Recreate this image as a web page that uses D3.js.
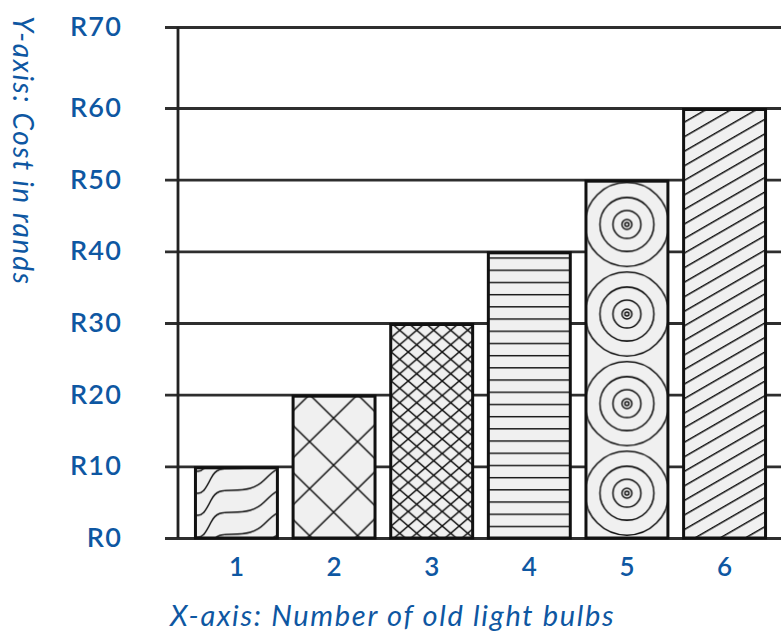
<!DOCTYPE html>
<html>
<head>
<meta charset="utf-8">
<script src="https://cdn.jsdelivr.net/npm/d3@7"></script>
<style>
  body { margin: 0; background: #fff; }
  text { font-family: Lato, "Open Sans", sans-serif; fill: #0e57a2; }
</style>
</head>
<body>
<div id="chart"></div>
<script>
// data
const bulbs = [1, 2, 3, 4, 5, 6];
const cost = [10, 20, 30, 40, 50, 60];
const fills = ['waves', 'bigDiamond', 'smallDiamond', 'hlines', 'rings', 'slant'];
const yTicks = [0, 10, 20, 30, 40, 50, 60, 70];
const yTickLabels = ['R0', 'R10', 'R20', 'R30', 'R40', 'R50', 'R60', 'R70'];
const xTitle = 'X-axis: Number of old light bulbs';
const yTitle = 'Y-axis: Cost in rands';

const width = 781;
const height = 633;
const BAR_FILL = '#f0f0f0';
const INK = '#111';
const BLUE = '#0e57a2';

const svg = d3.select('#chart')
  .append('svg')
  .attr('width', width)
  .attr('height', height);

const x = d3.scaleBand()
  .domain(bulbs)
  .range([180, 781])
  .paddingInner(0.13)
  .paddingOuter(0.143);

// top interval is a little taller than the rest in the original
const y = d3.scaleLinear()
  .domain([0, 60, 70])
  .range([538, 108, 27]);

const bw = x.bandwidth();
const defs = svg.append('defs');

// one pattern per bar, anchored to the bar's own corner
const makePattern = (i) => {
  const bx = x(bulbs[i]);
  const by = y(cost[i]);
  const bh = y(0) - by;
  const kind = fills[i];
  const p = defs.append('pattern')
    .attr('id', 'pat' + i)
    .attr('patternUnits', 'userSpaceOnUse');
  const line = (g) => g.attr('stroke', INK).attr('stroke-width', 1.5).attr('fill', 'none');

  if (kind === 'waves') {
    const ph = 22;
    p.attr('x', bx).attr('y', by + 2).attr('width', bw).attr('height', ph);
    p.append('rect').attr('width', bw).attr('height', ph).attr('fill', BAR_FILL);
    const sx = bw / 85;
    for (let k = -3; k <= 1; k++) {
      const o = k * ph;
      p.append('path').call(line)
        .attr('d', `M0,${46 + o} C${8 * sx},${50 + o} ${12 * sx},${42 + o} ${17 * sx},${32 + o}` +
          ` C${22 * sx},${22 + o} ${28 * sx},${22 + o} ${38 * sx},${22 + o}` +
          ` C${52 * sx},${22 + o} ${62 * sx},${20 + o} ${70 * sx},${12 + o}` +
          ` C${76 * sx},${6 + o} ${80 * sx},${2 + o} ${85 * sx},${o}`);
    }
  } else if (kind === 'bigDiamond' || kind === 'smallDiamond') {
    const pw = kind === 'bigDiamond' ? 48 : 17;
    const ph = kind === 'bigDiamond' ? 47 : 14.5;
    p.attr('x', bx + (kind === 'bigDiamond' ? 18 : 2)).attr('y', by)
      .attr('width', pw).attr('height', ph);
    p.append('rect').attr('width', pw).attr('height', ph).attr('fill', BAR_FILL);
    p.append('path').call(line)
      .attr('d', `M0,0L${pw},${ph}M${pw},0L0,${ph}`);
  } else if (kind === 'hlines') {
    const ph = 12.2;
    p.attr('x', bx).attr('y', by + 6).attr('width', bw).attr('height', ph);
    p.append('rect').attr('width', bw).attr('height', ph).attr('fill', BAR_FILL);
    p.append('line').call(line).attr('x1', 0).attr('x2', bw).attr('y1', 0.75).attr('y2', 0.75);
  } else if (kind === 'rings') {
    const ph = bh / 4;
    p.attr('x', bx).attr('y', by).attr('width', bw).attr('height', ph);
    p.append('rect').attr('width', bw).attr('height', ph).attr('fill', BAR_FILL);
    [42, 27, 14, 5, 2].forEach((r) => {
      p.append('circle').call(line)
        .attr('cx', bw / 2).attr('cy', ph / 2).attr('r', r);
    });
  } else {
    const ph = 12.6;
    p.attr('x', bx).attr('y', by)
      .attr('width', 20).attr('height', ph)
      .attr('patternTransform', `rotate(-30 ${bx} ${by})`);
    p.append('rect').attr('width', 20).attr('height', ph).attr('fill', BAR_FILL);
    p.append('line').call(line).attr('x1', 0).attr('x2', 20).attr('y1', 0.75).attr('y2', 0.75);
  }
};
bulbs.forEach((d, i) => makePattern(i));

// Grid lines and y labels
const yAxis = d3.axisLeft(y)
  .tickValues(yTicks)
  .tickSizeInner(-(width - 165))
  .tickSizeOuter(0)
  .tickPadding(43)
  .tickFormat((d, i) => yTickLabels[i]);

const gy = svg.append('g')
  .attr('transform', 'translate(165,0)')
  .call(yAxis);
gy.select('.domain').remove();
gy.selectAll('.tick line')
  .attr('stroke', '#2e2e2e')
  .attr('stroke-width', 2.8);
gy.selectAll('.tick text')
  .attr('font-size', 27)
  .attr('font-weight', 600)
  .attr('letter-spacing', 1.2)
  .attr('fill', BLUE);

// vertical axis line
svg.append('line')
  .attr('x1', 178).attr('x2', 178)
  .attr('y1', y(70)).attr('y2', y(0))
  .attr('stroke', '#222')
  .attr('stroke-width', 2.8);

// Bars
svg.append('g')
  .selectAll('rect')
  .data(bulbs)
  .enter().append('rect')
    .attr('x', (d) => x(d) + 1.5)
    .attr('y', (d, i) => y(cost[i]) + 1.5)
    .attr('width', bw - 3)
    .attr('height', (d, i) => y(0) - y(cost[i]) - 1.5)
    .attr('fill', (d, i) => `url(#pat${i})`)
    .attr('stroke', '#111')
    .attr('stroke-width', 3);

// x labels
const xAxis = d3.axisBottom(x)
  .tickSize(0)
  .tickPadding(20);
const gx = svg.append('g')
  .attr('transform', `translate(0,${y(0)})`)
  .call(xAxis);
gx.select('.domain').remove();
gx.selectAll('.tick text')
  .attr('font-size', 26)
  .attr('font-weight', 600)
  .attr('fill', BLUE);

// Axis titles
svg.append('text')
  .attr('x', 170)
  .attr('y', 626)
  .attr('font-size', 29)
  .attr('font-style', 'italic')
  .attr('letter-spacing', 1.7)
  .text(xTitle);

svg.append('text')
  .attr('transform', 'translate(13,16) rotate(90)')
  .attr('font-size', 28)
  .attr('font-style', 'italic')
  .attr('letter-spacing', 1.7)
  .text(yTitle);
</script>
</body>
</html>
